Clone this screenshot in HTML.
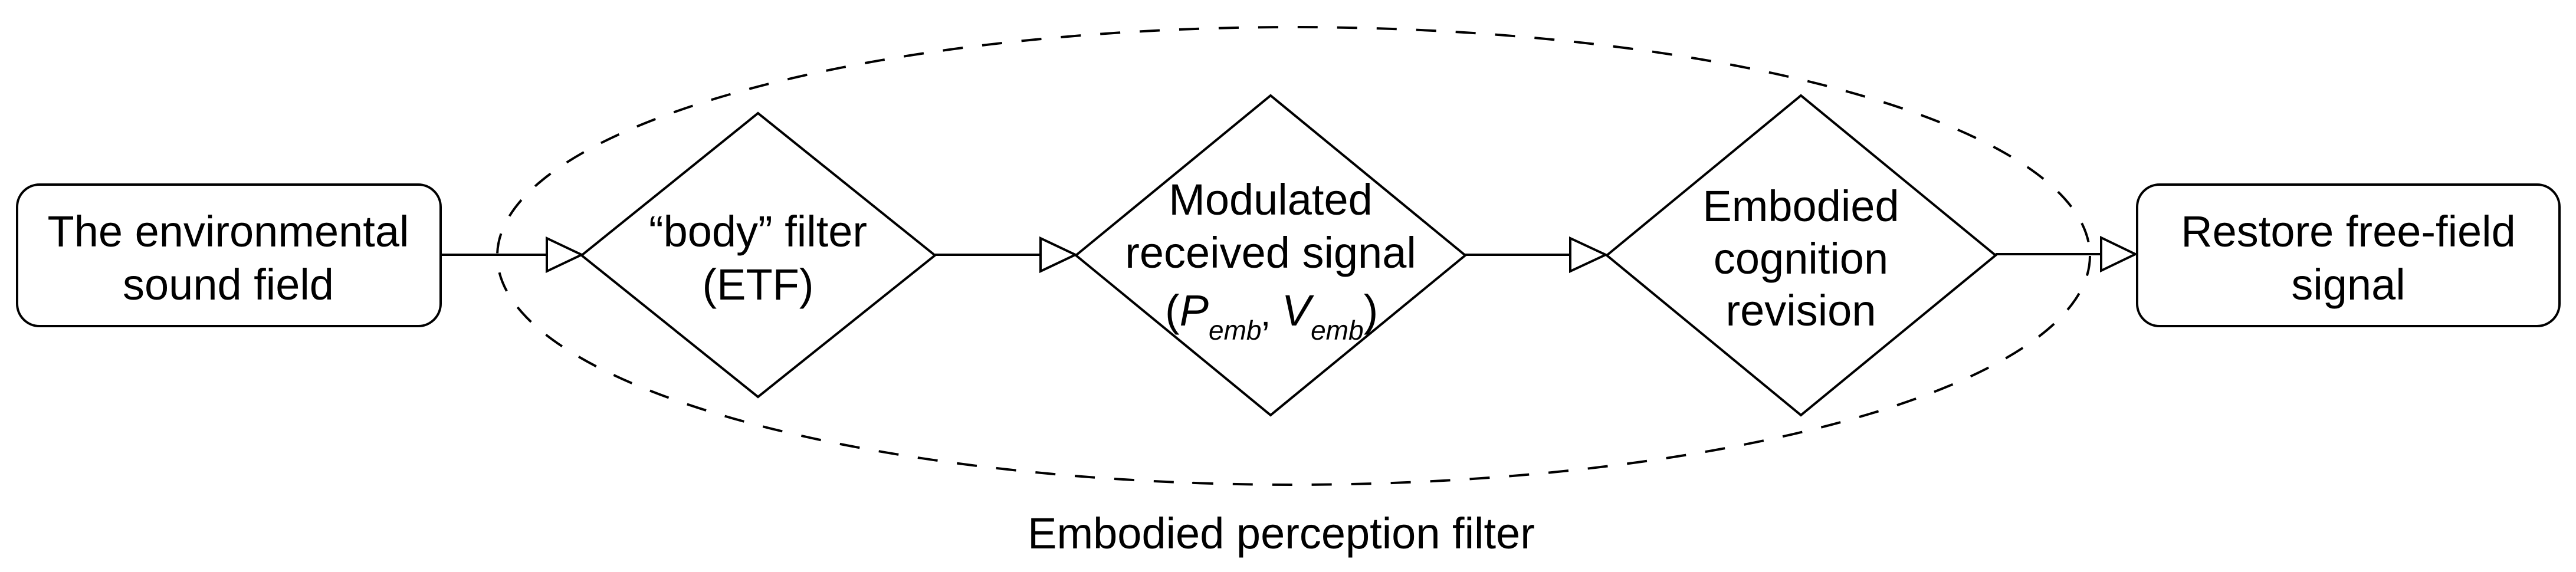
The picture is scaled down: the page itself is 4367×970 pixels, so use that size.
<!DOCTYPE html>
<html><head><meta charset="utf-8"><style>
html,body{margin:0;padding:0;background:#fff;}
svg{display:block;}
text{font-family:"Liberation Sans",Arial,sans-serif;font-size:74px;fill:#000;}
</style></head><body>
<svg width="4367" height="970" viewBox="0 0 4367 970" xmlns="http://www.w3.org/2000/svg">
<g fill="none" stroke="#000" stroke-width="4">
<ellipse cx="2193" cy="434" rx="1350" ry="388" stroke-dasharray="34 33"/>
<rect x="29" y="313" width="718" height="240" rx="38" ry="38"/>
<rect x="3623" y="313" width="716" height="240" rx="38" ry="38"/>
<polygon points="986,433 1285,192 1585,433 1285,673"/>
<polygon points="1824,433 2154,162 2484,433 2154,704"/>
<polygon points="2724,433 3053,162 3383,433 3053,704"/>
<line x1="747" y1="432" x2="927" y2="432"/>
<polygon points="927,404 986,432 927,460"/>
<line x1="1585" y1="432" x2="1764" y2="432"/>
<polygon points="1764,404 1823,432 1764,460"/>
<line x1="2484" y1="432" x2="2662" y2="432"/>
<polygon points="2662,404 2722,432 2662,460"/>
<line x1="3383" y1="431" x2="3562" y2="431"/>
<polygon points="3562,403 3620,431 3562,459"/>
</g>
<g text-anchor="middle">
<text x="387" y="418">The environmental</text>
<text x="387" y="508">sound field</text>
<text x="1285" y="418">“body” filter</text>
<text x="1285" y="508">(ETF)</text>
<text x="2154" y="364">Modulated</text>
<text x="2154" y="454">received signal</text>
<text x="3053" y="375">Embodied</text>
<text x="3053" y="464">cognition</text>
<text x="3053" y="552">revision</text>
<text x="3981" y="418">Restore free-field</text>
<text x="3981" y="508">signal</text>
<text x="2172" y="930">Embodied perception filter</text>
</g>
<text x="1975" y="552">(<tspan font-style="italic">P</tspan><tspan font-style="italic" font-size="46" dy="24">emb</tspan><tspan font-size="64" dy="14">’</tspan><tspan dx="20" dy="-38" font-style="italic">V</tspan><tspan font-style="italic" font-size="46" dy="24">emb</tspan><tspan dy="-24">)</tspan></text>
</svg>
</body></html>
